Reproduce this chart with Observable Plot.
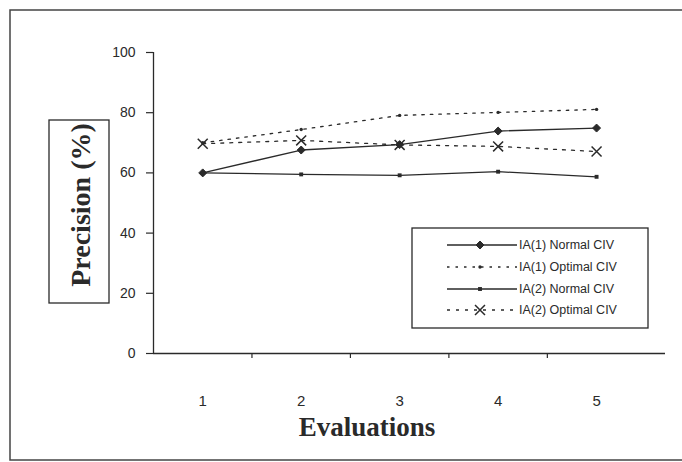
<!DOCTYPE html>
<html>
<head>
<meta charset="utf-8">
<script src="https://cdn.jsdelivr.net/npm/d3@7"></script>
<script src="https://cdn.jsdelivr.net/npm/@observablehq/plot@0.6"></script>
<style>
  html, body { margin: 0; padding: 0; background: #fff; }
  #chart { width: 682px; height: 462px; overflow: hidden; }
</style>
</head>
<body>
<div id="chart"></div>
<script>
// ---- data ----
const evaluations = [1, 2, 3, 4, 5];
const seriesNames = ["IA(1) Normal CIV", "IA(1) Optimal CIV", "IA(2) Normal CIV", "IA(2) Optimal CIV"];
const ia1Normal  = [60, 67.6, 69.4, 73.9, 74.9];
const ia1Optimal = [70, 74.4, 79.1, 80.1, 81.1];
const ia2Normal  = [60, 59.5, 59.2, 60.4, 58.7];
const ia2Optimal = [69.7, 70.8, 69.3, 68.8, 67.1];
const yTicks = [0, 20, 40, 60, 80, 100];
const xTickLabels = ["1", "2", "3", "4", "5"];
const xTitle = "Evaluations";
const yTitle = "Precision (%)";

// ---- styles ----
const ink = "#2a2a2a";
const styles = [
  {dash: null,  symbol: "diamond2", r: 3.6, fill: ink, stroke: ink, sw: 1},
  {dash: "2.5,6", symbol: "circle", r: 1.7, fill: ink, stroke: "none", sw: 0},
  {dash: null,  symbol: "square",   r: 2.2, fill: ink, stroke: "none", sw: 0},
  {dash: "3,6", symbol: "times",    r: 4.6, fill: "none", stroke: ink, sw: 1.5}
];
const seriesValues = [ia1Normal, ia1Optimal, ia2Normal, ia2Optimal];

const rows = seriesNames.map((name, i) =>
  evaluations.map((e, j) => ({series: name, x: e, y: seriesValues[i][j]})));

const marks = [
  Plot.ruleX([0.5], {y1: 0, y2: 100, stroke: ink, strokeWidth: 1.3}),
  Plot.ruleY([0], {stroke: ink, strokeWidth: 1.3}),
  Plot.axisY({ticks: yTicks, label: null, tickSize: 7, tickPadding: 11, fontSize: 14, stroke: ink, fill: ink, strokeWidth: 1.2}),
  Plot.axisX({ticks: [1.5, 2.5, 3.5, 4.5], label: null, tickFormat: () => "", tickSize: 5, stroke: ink, strokeWidth: 1.2}),
  Plot.axisX({ticks: evaluations, label: null, tickFormat: (d, i) => xTickLabels[i], tickSize: 0, tickPadding: 42, fontSize: 15, fill: ink})
];
rows.forEach((r, i) => {
  const s = styles[i];
  marks.push(Plot.line(r, {x: "x", y: "y", stroke: ink, strokeWidth: 1.3, strokeDasharray: s.dash || undefined}));
  marks.push(Plot.dot(r, {x: "x", y: "y", symbol: s.symbol, r: s.r, fill: s.fill, stroke: s.stroke, strokeWidth: s.sw}));
});

const plot = Plot.plot({
  width: 682,
  height: 462,
  marginLeft: 153,
  marginRight: 17,
  marginTop: 52,
  marginBottom: 109,
  style: {fontFamily: "Liberation Sans, Arial, sans-serif", color: ink, background: "#fff"},
  x: {type: "linear", domain: [0.5, 5.7], axis: null},
  y: {domain: [0, 100], axis: null},
  marks
});
document.getElementById("chart").appendChild(plot);

// ---- decorations: border, titles, legend ----
const svg = d3.select(plot);
svg.append("rect").attr("x", 10).attr("y", 10).attr("width", 700).attr("height", 450)
  .attr("fill", "none").attr("stroke", "#444").attr("stroke-width", 1.5);

svg.append("rect").attr("x", 49).attr("y", 120).attr("width", 60).attr("height", 183)
  .attr("fill", "#fff").attr("stroke", ink).attr("stroke-width", 1.3);
svg.append("text").attr("transform", "translate(80,205) rotate(-90)")
  .attr("text-anchor", "middle").attr("dominant-baseline", "central")
  .attr("font-family", "Liberation Serif, Times New Roman, serif").attr("font-weight", "bold")
  .attr("font-size", 28).attr("fill", ink).text(yTitle);

svg.append("text").attr("x", 367).attr("y", 427)
  .attr("text-anchor", "middle").attr("dominant-baseline", "central")
  .attr("font-family", "Liberation Serif, Times New Roman, serif").attr("font-weight", "bold")
  .attr("font-size", 27).attr("fill", ink).text(xTitle);

const lg = svg.append("g").attr("text-anchor", "start");
lg.append("rect").attr("x", 412).attr("y", 228).attr("width", 236).attr("height", 100)
  .attr("fill", "#fff").attr("stroke", ink).attr("stroke-width", 1.3);
const rowY = [245, 267, 289, 310];
const symMap = {diamond2: d3.symbolDiamond2, circle: d3.symbolCircle, square: d3.symbolSquare, times: d3.symbolTimes};
seriesNames.forEach((name, i) => {
  const s = styles[i];
  const y = rowY[i];
  lg.append("line").attr("x1", 447).attr("x2", 517).attr("y1", y).attr("y2", y)
    .attr("stroke", ink).attr("stroke-width", 1.3).attr("stroke-dasharray", s.dash);
  lg.append("path").attr("transform", `translate(480,${y})`)
    .attr("d", d3.symbol(symMap[s.symbol], Math.PI * s.r * s.r)())
    .attr("fill", s.fill).attr("stroke", s.stroke).attr("stroke-width", s.sw);
  lg.append("text").attr("x", 519).attr("y", y).attr("dominant-baseline", "central")
    .attr("text-anchor", "start")
    .attr("font-family", "Liberation Sans, Arial, sans-serif").attr("font-size", 12.5)
    .attr("fill", ink).text(name);
});
</script>
</body>
</html>
